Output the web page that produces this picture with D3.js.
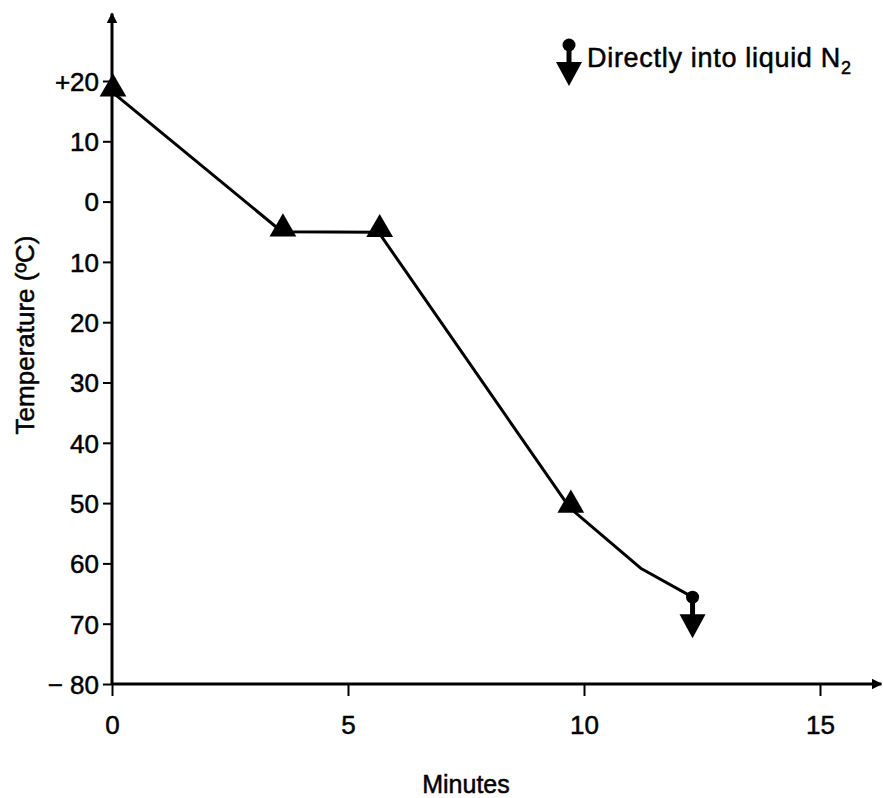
<!DOCTYPE html>
<html lang="en">
<head>
  <meta charset="UTF-8">
  <title>Cooling curve</title>
  <style>
    body { margin: 0; background: #fff; }
    svg { display: block; }
    text { font-family: "Liberation Sans", Arial, sans-serif; fill: #000; stroke: #000; stroke-width: 0.5px; }
    .tick text { font-size: 26px; }
  </style>
</head>
<body>
  <div class="container"></div>
  <script src="https://d3js.org/d3.v7.min.js"></script>
  <script>
    // values
    let minutes = [0, 3.6, 5.65, 9.7, 11.2, 12.3]
    let temps = [18.2, -5, -5.1, -50.8, -60.8, -65.6]
    let markers = ['tri', 'tri', 'tri', 'tri', 'none', 'drop']

    let xTicks = [0, 5, 10, 15]
    let yTicks = [20, 10, 0, -10, -20, -30, -40, -50, -60, -70, -80]
    let yTickLabels = ['+20', '10', '0', '10', '20', '30', '40', '50', '60', '70', '\u2212 80']

    let W = 883, H = 798

    let svg = d3.select('.container').append('svg')
      .attr('width', W)
      .attr('height', H)

    let x = d3.scaleLinear().domain([0, 15]).range([112, 820])
    let y = d3.scaleLinear().domain([20, -80]).range([81, 684])

    // arrow heads for the axes
    let defs = svg.append('defs')
    defs.append('marker')
      .attr('id', 'arr')
      .attr('viewBox', '0 0 10 10')
      .attr('refX', 9).attr('refY', 5)
      .attr('markerWidth', 3.5).attr('markerHeight', 3.5)
      .attr('markerUnits', 'strokeWidth')
      .attr('orient', 'auto')
      .append('path')
      .attr('d', 'M0,0 L10,5 L0,10 Z')
      .attr('fill', '#000')

    //x轴
    let xAxis = d3.axisBottom(x)
      .tickValues(xTicks)
      .tickSize(12)
      .tickPadding(20)
      .tickFormat(d3.format('d'))
    let gx = svg.append('g')
      .attr('transform', `translate(0, ${y(-80)})`)
      .call(xAxis)
    gx.select('.domain').remove()
    gx.selectAll('.tick line').attr('stroke-width', 2)

    //y轴
    let yAxis = d3.axisLeft(y)
      .tickValues(yTicks)
      .tickSize(9)
      .tickPadding(4)
      .tickFormat((d, i) => yTickLabels[i])
    let gy = svg.append('g')
      .attr('transform', `translate(${x(0)}, 0)`)
      .call(yAxis)
    gy.select('.domain').remove()
    gy.selectAll('.tick line').attr('stroke-width', 2)
    gy.selectAll('.tick text').attr('dy', '0.36em')

    svg.append('line')
      .attr('x1', x(0)).attr('y1', y(-80))
      .attr('x2', x(16.3)).attr('y2', y(-80))
      .attr('stroke', '#000').attr('stroke-width', 3)
      .attr('marker-end', 'url(#arr)')
    svg.append('line')
      .attr('x1', x(0)).attr('y1', y(-80))
      .attr('x2', x(0)).attr('y2', y(31.2))
      .attr('stroke', '#000').attr('stroke-width', 3)
      .attr('marker-end', 'url(#arr)')

    // axis titles
    svg.append('text')
      .attr('x', 466).attr('y', 793)
      .attr('text-anchor', 'middle')
      .style('font-size', '25px')
      .text('Minutes')
    svg.append('text')
      .attr('transform', `translate(34, 335) rotate(-90)`)
      .attr('text-anchor', 'middle')
      .style('font-size', '26px')
      .text('Temperature (ºC)')

    let data = minutes.map((m, i) => ({ m: m, t: temps[i], k: markers[i] }))

    // the curve
    let line = d3.line().x(d => x(d.m)).y(d => y(d.t))
    svg.append('path')
      .datum(data)
      .attr('d', line)
      .attr('fill', 'none')
      .attr('stroke', '#000')
      .attr('stroke-width', 3)
      .attr('stroke-linejoin', 'round')

    let tri = d3.symbol().type(d3.symbolTriangle).size(310)
    svg.selectAll('.tri')
      .data(data.filter(d => d.k == 'tri'))
      .enter()
      .append('path')
      .attr('class', 'tri')
      .attr('transform', d => `translate(${x(d.m) + 1}, ${y(d.t) - 3})`)
      .attr('d', tri)
      .attr('fill', '#000')

    // circle + down arrow = "directly into liquid N2"
    function drop(g, cx, cy) {
      g.append('circle')
        .attr('cx', cx).attr('cy', cy).attr('r', 6.5)
        .attr('fill', '#000')
      g.append('line')
        .attr('x1', cx).attr('y1', cy).attr('x2', cx).attr('y2', cy + 20)
        .attr('stroke', '#000').attr('stroke-width', 5)
      g.append('path')
        .attr('d', `M${cx - 13},${cy + 17} L${cx + 13},${cy + 17} L${cx},${cy + 41} Z`)
        .attr('fill', '#000')
    }

    data.filter(d => d.k == 'drop').forEach(d => {
      drop(svg.append('g'), x(d.m), y(d.t))
    })

    // legend
    let leg = svg.append('g')
    drop(leg, 569, 45)
    let lt = leg.append('text')
      .attr('x', 587).attr('y', 67)
      .style('font-size', '27px')
      .style('letter-spacing', '0.7px')
    lt.append('tspan').text('Directly into liquid  N')
    lt.append('tspan').attr('dy', 7).style('font-size', '18px').text('2')
  </script>
</body>
</html>
